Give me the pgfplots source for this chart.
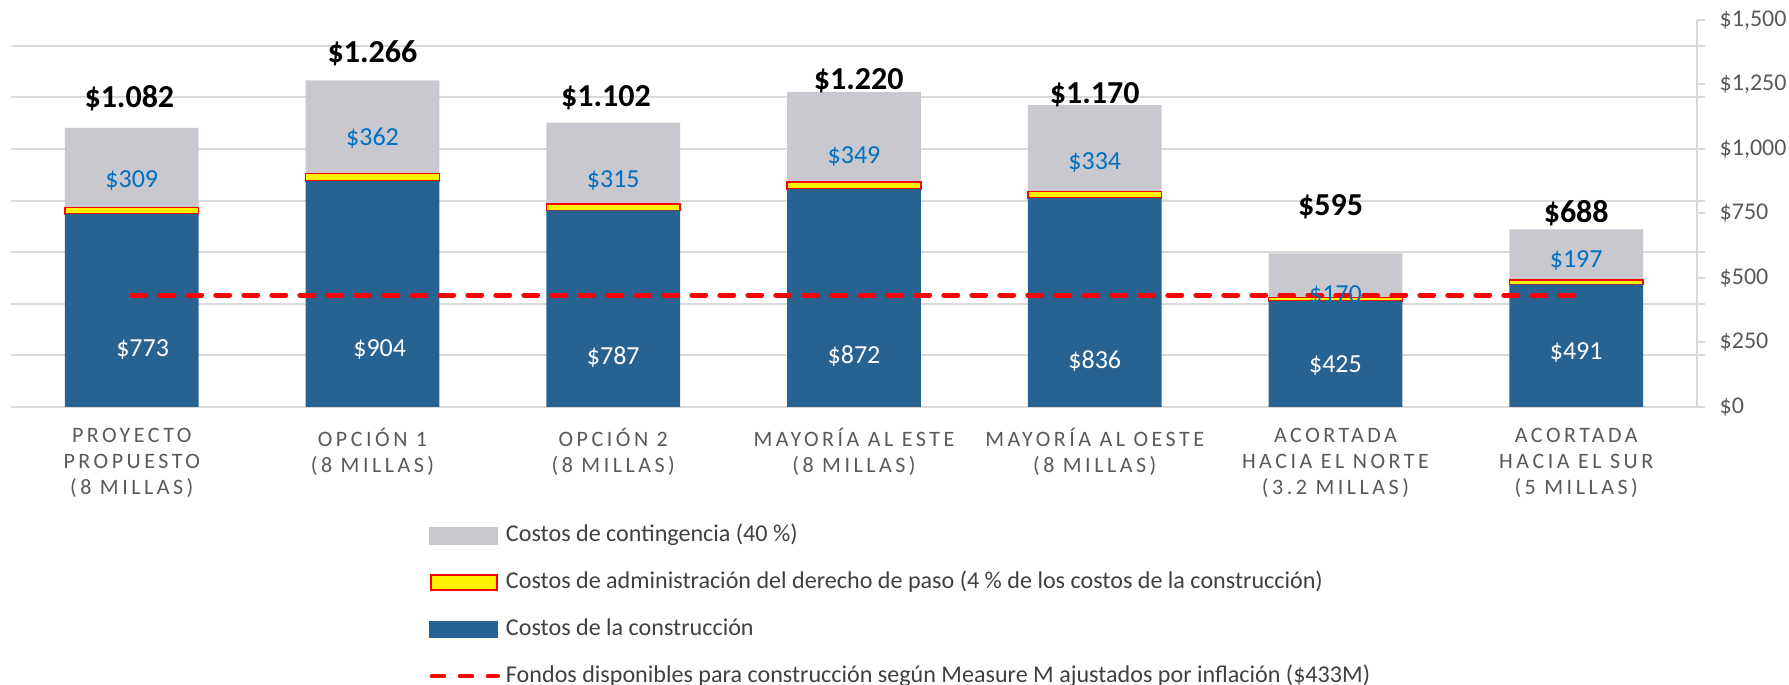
\documentclass[border=0pt]{standalone}
\usepackage{fontspec}
\setmainfont{Carlito}
\newfontfamily\spaced{Carlito}[LetterSpace=16]
\usepackage{pgfplots}
\pgfplotsset{compat=1.18}
\usepackage{pgfplotstable}
\definecolor{conblue}{RGB}{39,98,145}
\definecolor{contgrey}{RGB}{201,200,206}
\definecolor{lblblue}{RGB}{0,112,192}
\definecolor{gridgrey}{RGB}{217,217,217}
\definecolor{txtgrey}{RGB}{89,89,89}
\definecolor{legtxt}{RGB}{64,64,64}

% x = category, blue = construction minus admin band, admin = ROW admin band, cont = contingency
\pgfplotstableread{
x blue admin cont
0 748 25 309
1 875 29 362
2 762 25 315
3 844 28 349
4 809 27 334
5 411 14 170
6 475 16 197
}\bars

\pgfplotstableread{
x y v
0.045 223 773
1.03 223 904
2 192 787
3 197 872
4 179 836
5 162 425
6 210 491
}\conlabels

\pgfplotstableread{
x y v
0 878 309
1 1042 362
2 878 315
3 971 349
4 949 334
5 431 170
6 569 197
}\contlabels

\pgfplotstableread{
x y v
-0.01 1197 1082
1 1369 1266
1.97 1197 1102
3.02 1263 1220
4 1210 1170
4.98 776 595
6 750 688
}\totlabels

\pgfplotstableread{
x y
0 433
6 433
}\fund

\pgfplotsset{
  base/.style={
    scale only axis, width=842.6pt, height=193.4pt,
    xmin=-0.5, xmax=6.5, ymin=0, ymax=1500,
    clip=false,
  },
  lbl/.style={
    draw=none, mark=*, mark size=0pt, mark options={draw=none, fill=none},
    nodes near coords={\$\pgfmathprintnumber[fixed, 1000 sep={.}, assume math mode=true]{\pgfplotspointmeta}},
    point meta=explicit,
  },
}

\begin{document}
\begin{tikzpicture}
\useasboundingbox (-5.7pt,-138.9pt) rectangle (888.8pt,203.4pt);
\begin{axis}[
  base,
  ybar stacked, bar width=0.555,
  axis x line*=bottom, axis y line*=right,
  x axis line style={draw=none},
  y axis line style={draw=gridgrey, line width=1pt},
  xtick={0,...,6},
  xticklabels={{PROYECTO\\PROPUESTO\\(8 MILLAS)},{OPCIÓN 1\\(8 MILLAS)},{OPCIÓN 2\\(8 MILLAS)},{MAYORÍA AL ESTE\\(8 MILLAS)},{MAYORÍA AL OESTE\\(8 MILLAS)},{ACORTADA\\HACIA EL NORTE\\(3.2 MILLAS)},{ACORTADA\\HACIA EL SUR\\(5 MILLAS)}},
  xtick style={draw=none},
  xticklabel style={font=\spaced\fontsize{11}{13}\selectfont, text=txtgrey, align=center, anchor=north, yshift=-3pt},
  ytick={0,250,...,1500},
  yticklabels={{\$0},{\$250},{\$500},{\$750},{\$1,000},{\$1,250},{\$1,500}},
  ytick style={draw=gridgrey, line width=1pt},
  tick align=outside, major tick length=4pt,
  yticklabel style={font=\fontsize{12}{14}\selectfont, text=txtgrey, anchor=west, xshift=4pt},
  extra y ticks={0,200,...,1400},
  extra y tick labels={},
  extra y tick style={grid=major, major grid style={draw=gridgrey, line width=1pt}, tick style={draw=none}},
  legend style={at={(0.2478,-0.515)}, anchor=west, draw=none, fill=none, inner sep=0pt,
    font=\fontsize{12.05}{14}\selectfont, text=legtxt, row sep=11.4pt,
    nodes={inner sep=0pt, text depth=3pt, text height=9pt},
    /tikz/every odd column/.style={column sep=3pt}},
  legend cell align=left,
]
\addlegendimage{legend image code/.code={\fill[contgrey] (0pt,-4.2pt) rectangle (34pt,4.2pt);}}
\addlegendentry{Costos de contingencia (40 \%)}
\addlegendimage{legend image code/.code={\draw[fill=yellow, draw=red, line width=1pt] (0.5pt,-3.7pt) rectangle (33.5pt,3.7pt);}}
\addlegendentry{Costos de administración del derecho de paso (4 \% de los costos de la construcción)}
\addlegendimage{legend image code/.code={\fill[conblue] (0pt,-4.2pt) rectangle (34pt,4.2pt);}}
\addlegendentry{Costos de la construcción}
\addlegendimage{legend image code/.code={\draw[red, line width=2.2pt, dash pattern=on 6pt off 8pt, line cap=round] (1.1pt,0pt) -- (34pt,0pt);}}
\addlegendentry{Fondos disponibles para construcción según Measure M ajustados por inflación (\$433M)}

\addplot[forget plot, fill=conblue, draw=none] table[x=x, y=blue]{\bars};
\addplot[forget plot, fill=yellow, draw=red, line width=0.7pt] table[x=x, y=admin]{\bars};
\addplot[forget plot, fill=contgrey, draw=none] table[x=x, y=cont]{\bars};
\end{axis}

\begin{axis}[base, hide axis]
\addplot[red, line width=2.4pt, dash pattern=on 7pt off 7pt, line cap=round] table[x=x, y=y]{\fund};
\addplot[lbl, nodes near coords style={anchor=center, text=white, font=\fontsize{13}{15}\selectfont}] table[x=x, y=y, meta=v]{\conlabels};
\addplot[lbl, nodes near coords style={anchor=center, text=lblblue, font=\fontsize{13}{15}\selectfont}] table[x=x, y=y, meta=v]{\contlabels};
\addplot[lbl, nodes near coords style={anchor=center, text=black, font=\bfseries\fontsize{16}{18}\selectfont}] table[x=x, y=y, meta=v]{\totlabels};
\end{axis}
\end{tikzpicture}
\end{document}
